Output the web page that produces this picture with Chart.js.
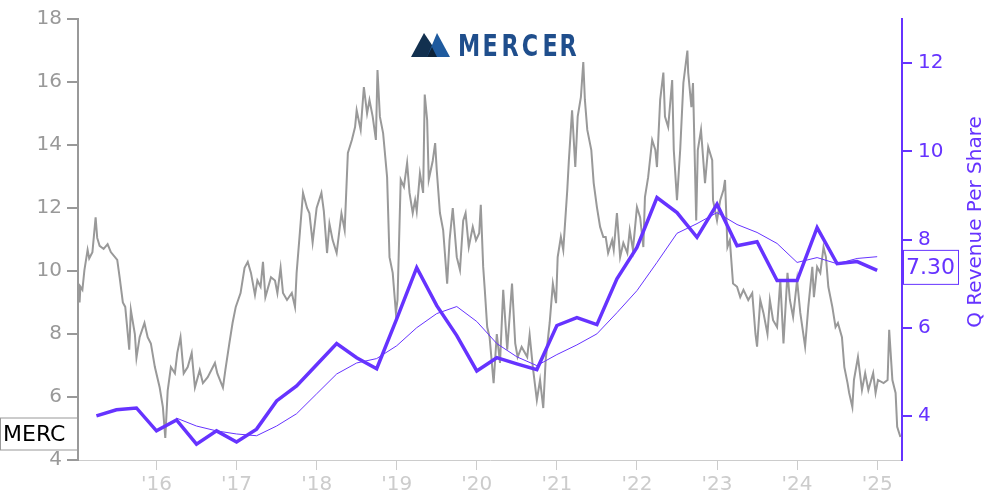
<!DOCTYPE html>
<html>
<head>
<meta charset="utf-8">
<script src="https://cdn.jsdelivr.net/npm/chart.js@4"></script>
<style>
  html, body { margin: 0; padding: 0; background: #fff; }
</style>
</head>
<body>
<canvas id="myChart" width="1000" height="500"></canvas>
<script>
// share price (left axis), decimal years
const priceDates = [
  2015.02, 2015.025, 2015.04, 2015.05, 2015.075, 2015.10, 2015.14, 2015.16, 2015.20, 2015.24,
  2015.26, 2015.29, 2015.34, 2015.39, 2015.43, 2015.51, 2015.54, 2015.58, 2015.61, 2015.66,
  2015.68, 2015.73, 2015.75, 2015.79, 2015.85, 2015.89, 2015.93, 2015.98, 2016.04, 2016.08,
  2016.11, 2016.14, 2016.18, 2016.23, 2016.26, 2016.30, 2016.34, 2016.39, 2016.44, 2016.48,
  2016.54, 2016.58, 2016.64, 2016.73, 2016.76, 2016.83, 2016.86, 2016.91, 2016.95, 2016.99,
  2017.05, 2017.10, 2017.14, 2017.18, 2017.23, 2017.26, 2017.30, 2017.33, 2017.36, 2017.43,
  2017.48, 2017.51, 2017.55, 2017.58, 2017.63, 2017.69, 2017.73, 2017.75, 2017.79, 2017.83,
  2017.88, 2017.91, 2017.95, 2018.00, 2018.06, 2018.09, 2018.13, 2018.16, 2018.20, 2018.25,
  2018.31, 2018.35, 2018.39, 2018.44, 2018.48, 2018.50, 2018.55, 2018.59, 2018.63, 2018.66,
  2018.70, 2018.74, 2018.76, 2018.79, 2018.83, 2018.88, 2018.91, 2018.95, 2018.99, 2019.01,
  2019.05, 2019.09, 2019.13, 2019.16, 2019.20, 2019.23, 2019.25, 2019.29, 2019.33, 2019.35,
  2019.38, 2019.40, 2019.45, 2019.48, 2019.50, 2019.54, 2019.58, 2019.63, 2019.66, 2019.70,
  2019.75, 2019.79, 2019.83, 2019.86, 2019.90, 2019.95, 2019.99, 2020.03, 2020.05, 2020.08,
  2020.10, 2020.13, 2020.16, 2020.21, 2020.25, 2020.29, 2020.33, 2020.38, 2020.44, 2020.48,
  2020.51, 2020.56, 2020.63, 2020.66, 2020.70, 2020.75, 2020.79, 2020.83, 2020.86, 2020.91,
  2020.95, 2020.99, 2021.01, 2021.05, 2021.08, 2021.13, 2021.15, 2021.19, 2021.23, 2021.26,
  2021.30, 2021.33, 2021.35, 2021.38, 2021.43, 2021.46, 2021.50, 2021.54, 2021.58, 2021.61,
  2021.64, 2021.69, 2021.71, 2021.75, 2021.79, 2021.83, 2021.88, 2021.91, 2021.95, 2022.00,
  2022.04, 2022.08, 2022.10, 2022.14, 2022.19, 2022.23, 2022.25, 2022.29, 2022.33, 2022.35,
  2022.39, 2022.44, 2022.46, 2022.50, 2022.54, 2022.58, 2022.63, 2022.64, 2022.68, 2022.70,
  2022.74, 2022.76, 2022.80, 2022.85, 2022.89, 2022.94, 2022.95, 2023.00, 2023.04, 2023.08,
  2023.10, 2023.13, 2023.16, 2023.20, 2023.25, 2023.29, 2023.33, 2023.39, 2023.44, 2023.48,
  2023.50, 2023.54, 2023.58, 2023.63, 2023.66, 2023.70, 2023.75, 2023.79, 2023.83, 2023.88,
  2023.91, 2023.95, 2024.00, 2024.04, 2024.10, 2024.14, 2024.19, 2024.21, 2024.25, 2024.29,
  2024.33, 2024.36, 2024.39, 2024.44, 2024.48, 2024.51, 2024.56, 2024.59, 2024.63, 2024.65,
  2024.69, 2024.71, 2024.76, 2024.81, 2024.85, 2024.89, 2024.95, 2024.98, 2025.01, 2025.08,
  2025.13, 2025.15, 2025.19, 2025.23, 2025.25, 2025.29
];
const priceValues = [
  9.3, 9.6, 9.0, 9.5, 9.4, 10.03, 10.67, 10.4, 10.6, 11.7,
  11.05, 10.8, 10.7, 10.85, 10.6, 10.35, 9.8, 9.0, 8.86, 7.5,
  8.76, 8.0, 7.24, 7.9, 8.35, 7.9, 7.7, 6.95, 6.3, 5.68,
  4.7, 6.2, 6.95, 6.75, 7.4, 7.9, 6.75, 6.95, 7.4, 6.3,
  6.85, 6.44, 6.63, 7.08, 6.75, 6.3, 6.85, 7.7, 8.35, 8.86,
  9.3, 10.1, 10.29, 9.94, 9.24, 9.7, 9.5, 10.29, 9.17, 9.8,
  9.7, 9.3, 10.1, 9.3, 9.08, 9.3, 8.86, 9.94, 11.2, 12.48,
  12.0, 11.83, 10.9, 12.0, 12.48, 11.9, 10.57, 11.5, 10.98, 10.57,
  11.83, 11.3, 13.75, 14.16, 14.57, 15.1, 14.48, 15.84, 15.0, 15.43,
  14.9, 14.16, 16.38, 14.9, 14.38, 12.98, 10.44, 9.94, 8.67, 9.08,
  12.9, 12.67, 13.43, 12.48, 11.84, 12.25, 11.9, 13.1, 12.48, 15.6,
  14.8, 12.9, 13.5, 14.06, 13.2, 11.84, 11.3, 9.6, 10.98, 12.0,
  10.44, 10.03, 11.6, 11.84, 10.76, 11.4, 10.98, 11.2, 12.1, 10.13,
  9.4, 8.22, 7.9, 6.44, 8.0, 7.08, 9.4, 7.5, 9.6, 7.7,
  7.27, 7.59, 7.27, 7.97, 6.95, 5.9, 6.54, 5.65, 7.17, 8.35,
  9.6, 8.98, 10.44, 11.08, 10.67, 12.57, 13.52, 15.1, 13.3, 14.9,
  15.52, 16.63, 15.43, 14.48, 13.84, 12.79, 12.03, 11.4, 11.08, 11.08,
  10.57, 10.98, 10.67, 11.84, 10.44, 10.89, 10.57, 11.3, 10.67, 12.03,
  11.7, 10.76, 12.35, 12.98, 14.16, 13.84, 13.3, 15.43, 16.3, 14.9,
  14.57, 16.06, 13.84, 12.25, 13.84, 15.97, 17.0, 16.3, 15.2, 15.97,
  11.6, 13.84, 14.48, 12.79, 13.94, 13.52, 12.25, 11.6, 12.25, 12.57,
  12.89, 10.76, 10.98, 9.6, 9.5, 9.17, 9.4, 9.08, 9.3, 8.0,
  7.6, 9.08, 8.67, 8.0, 9.08, 8.44, 8.22, 9.71, 7.7, 9.94,
  9.08, 8.54, 9.71, 8.67, 7.6, 8.86, 10.13, 9.17, 10.13, 9.94,
  10.76, 10.44, 9.5, 8.86, 8.22, 8.35, 7.9, 6.95, 6.44, 6.13,
  5.68, 6.54, 7.27, 6.22, 6.76, 6.22, 6.76, 6.13, 6.54, 6.44,
  6.54, 8.13, 6.54, 6.13, 5.05, 4.73
];

// quarterly revenue per share (right axis)
const qDates = [
  2015.25, 2015.5, 2015.75, 2016.0, 2016.25, 2016.5, 2016.75, 2017.0,
  2017.25, 2017.5, 2017.75, 2018.0, 2018.25, 2018.5, 2018.75, 2019.0,
  2019.25, 2019.5, 2019.75, 2020.0, 2020.25, 2020.5, 2020.75, 2021.0,
  2021.25, 2021.5, 2021.75, 2022.0, 2022.25, 2022.5, 2022.75, 2023.0,
  2023.25, 2023.5, 2023.75, 2024.0, 2024.25, 2024.5, 2024.75, 2025.0
];
const qRevenue = [
  4.00, 4.14, 4.18, 3.66, 3.91, 3.36, 3.66, 3.41,
  3.70, 4.34, 4.68, 5.16, 5.64, 5.32, 5.07, 6.20,
  7.36, 6.50, 5.82, 5.02, 5.32, 5.18, 5.05, 6.05,
  6.23, 6.07, 7.11, 7.82, 8.95, 8.61, 8.05, 8.80,
  7.86, 7.95, 7.07, 7.07, 8.27, 7.45, 7.50, 7.30
];
// thin line, starts Q1 2016
const avgDates = qDates.slice(4);
const avgRevenue = [
  3.95, 3.77, 3.66, 3.59, 3.55, 3.77, 4.05, 4.50,
  4.95, 5.20, 5.30, 5.59, 6.00, 6.32, 6.48, 6.14,
  5.64, 5.34, 5.14, 5.39, 5.61, 5.86, 6.34, 6.84,
  7.48, 8.14, 8.36, 8.61, 8.34, 8.16, 7.91, 7.48,
  7.59, 7.45, 7.57, 7.61
];

const xTicks = [2016, 2017, 2018, 2019, 2020, 2021, 2022, 2023, 2024, 2025];
const leftTicks = [4, 6, 8, 10, 12, 14, 16, 18];
const rightTicks = [4, 6, 8, 10, 12];

const GRAY = '#999999';
const LIGHT = '#cccccc';
const PURPLE = '#6633ff';
const FONT = 'DejaVu Sans';

const toPoints = (xs, ys) => xs.map((x, i) => ({ x: x, y: ys[i] }));

// logo, label boxes and rotated right title
const extras = {
  id: 'extras',
  afterDraw(chart) {
    const ctx = chart.ctx;
    const ys = chart.scales.y;
    const y2s = chart.scales.y2;
    ctx.save();

    // MERCER logo
    ctx.fillStyle = '#12304f';
    ctx.beginPath();
    ctx.moveTo(411, 57); ctx.lineTo(424, 33); ctx.lineTo(440, 57); ctx.closePath();
    ctx.fill();
    ctx.fillStyle = '#1f5a9e';
    ctx.beginPath();
    ctx.moveTo(427, 57); ctx.lineTo(437, 33); ctx.lineTo(450, 57); ctx.closePath();
    ctx.fill();
    ctx.fillStyle = '#0d2238';
    ctx.beginPath();
    ctx.moveTo(427, 57); ctx.lineTo(432, 47); ctx.lineTo(437, 57); ctx.closePath();
    ctx.fill();

    ctx.fillStyle = '#1f4e8c';
    ctx.font = 'bold 31px "' + FONT + '"';
    ctx.textBaseline = 'alphabetic';
    ctx.textAlign = 'center';
    const letters = 'MERCER';
    const centers = [469, 490, 510, 530, 550, 568];
    for (let i = 0; i < letters.length; i++) {
      ctx.save();
      ctx.translate(centers[i], 56);
      ctx.scale(0.72, 1);
      ctx.fillText(letters[i], 0, 0);
      ctx.restore();
    }

    // MERC box on the left
    const py = ys.getPixelForValue(priceValues[priceValues.length - 1]) - 3;
    ctx.fillStyle = '#ffffff';
    ctx.fillRect(0.5, py - 16, 77, 32);
    ctx.strokeStyle = GRAY;
    ctx.lineWidth = 1;
    ctx.strokeRect(0.5, py - 16, 77, 32);
    ctx.fillStyle = '#000000';
    ctx.font = '22px "' + FONT + '"';
    ctx.textAlign = 'left';
    ctx.textBaseline = 'middle';
    ctx.fillText('MERC', 3, py + 1);

    // last revenue box on the right
    const last = qRevenue[qRevenue.length - 1];
    const ry = y2s.getPixelForValue(last) - 3;
    ctx.fillStyle = '#ffffff';
    ctx.fillRect(903.5, ry - 17, 55, 34);
    ctx.strokeStyle = PURPLE;
    ctx.strokeRect(903.5, ry - 17, 55, 34);
    ctx.fillStyle = PURPLE;
    ctx.fillText(last.toFixed(2), 906, ry + 1);

    // right axis title, reading upwards
    ctx.translate(976, 222);
    ctx.rotate(-Math.PI / 2);
    ctx.textAlign = 'center';
    ctx.font = '20px "' + FONT + '"';
    ctx.fillText('Q Revenue Per Share', 0, 0);

    ctx.restore();
  }
};

const ctx = document.getElementById('myChart').getContext('2d');
const myChart = new Chart(ctx, {
  type: 'line',
  data: {
    datasets: [{
      label: 'Q Revenue Per Share',
      data: toPoints(qDates, qRevenue),
      yAxisID: 'y2',
      borderColor: PURPLE,
      borderWidth: 3.5,
      pointRadius: 0,
      tension: 0,
      order: 0
    }, {
      label: 'Average',
      data: toPoints(avgDates, avgRevenue),
      yAxisID: 'y2',
      borderColor: PURPLE,
      borderWidth: 1,
      pointRadius: 0,
      tension: 0,
      order: 1
    }, {
      label: 'MERC',
      data: toPoints(priceDates, priceValues),
      yAxisID: 'y',
      borderColor: GRAY,
      borderWidth: 2,
      pointRadius: 0,
      tension: 0,
      order: 2
    }]
  },
  options: {
    responsive: false,
    animation: false,
    layout: { padding: { top: 19, left: 0, right: 0, bottom: 0 } },
    plugins: {
      legend: { display: false },
      tooltip: { enabled: false }
    },
    scales: {
      x: {
        type: 'linear',
        min: 2015.02,
        max: 2025.31,
        afterBuildTicks: s => { s.ticks = xTicks.map(v => ({ value: v })); },
        afterFit: s => { s.height = 40; },
        grid: { drawOnChartArea: false, tickLength: 10, color: LIGHT },
        border: { color: LIGHT, width: 1 },
        ticks: {
          color: LIGHT,
          font: { family: FONT, size: 20 },
          padding: 3,
          maxRotation: 0,
          autoSkip: false,
          callback: v => "'" + String(v).slice(2)
        }
      },
      y: {
        position: 'left',
        min: 4,
        max: 18,
        afterBuildTicks: s => { s.ticks = leftTicks.map(v => ({ value: v })); },
        afterFit: s => { s.width = 78; },
        grid: { drawOnChartArea: false, tickLength: 11, color: GRAY, lineWidth: 2 },
        border: { color: GRAY, width: 2 },
        ticks: { color: GRAY, font: { family: FONT, size: 20 }, padding: 5 }
      },
      y2: {
        position: 'right',
        min: 3,
        max: 13,
        afterBuildTicks: s => { s.ticks = rightTicks.map(v => ({ value: v })); },
        afterFit: s => { s.width = 98; },
        grid: { drawOnChartArea: false, tickLength: 10, color: PURPLE, lineWidth: 2 },
        border: { color: PURPLE, width: 2 },
        ticks: { color: PURPLE, font: { family: FONT, size: 20 }, padding: 6 }
      }
    }
  },
  plugins: [extras]
});
</script>
</body>
</html>
